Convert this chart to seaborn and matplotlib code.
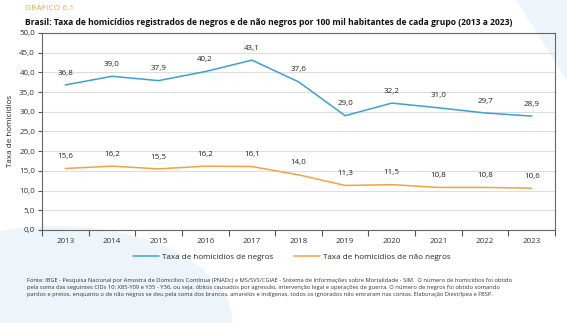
import matplotlib
matplotlib.use("Agg")
import matplotlib.pyplot as plt
import seaborn as sns
import pandas as pd
from matplotlib.patches import Polygon, Ellipse
from matplotlib.lines import Line2D

years = [2013, 2014, 2015, 2016, 2017, 2018, 2019, 2020, 2021, 2022, 2023]
negros = [36.8, 39.0, 37.9, 40.2, 43.1, 37.6, 29.0, 32.2, 31.0, 29.7, 28.9]
nao_negros = [15.6, 16.2, 15.5, 16.2, 16.1, 14.0, 11.3, 11.5, 10.8, 10.8, 10.6]
series_names = ["Taxa de homicídios de negros", "Taxa de homicídios de não negros"]
yticks = [0, 5, 10, 15, 20, 25, 30, 35, 40, 45, 50]

sns.set_theme(style="white")
plt.rcParams['font.family'] = ['Open Sans', 'DejaVu Sans']

df = pd.DataFrame({
    "pos": list(range(len(years))) * 2,
    "valor": negros + nao_negros,
    "serie": [series_names[0]] * len(years) + [series_names[1]] * len(years),
})

fig = plt.figure(figsize=(5.67, 3.23), dpi=100)
fig.patch.set_facecolor("white")

# faint background shapes
bg = fig.add_axes([0, 0, 1, 1], zorder=-10)
bg.set_xlim(0, 1); bg.set_ylim(0, 1); bg.axis("off")
bg.add_patch(Ellipse((0.1, 0.0), 0.62, 0.6, color="#eef5fa", lw=0))
bg.add_patch(Polygon([[0.91, 1.0], [1.0, 1.0], [1.0, 0.75]], color="#eef5fa", lw=0))

ax = fig.add_axes([0.074, 0.288, 0.905, 0.61])
ax.set_facecolor("none")
colors = ["#3b9fd9", "#f7a142"]
sns.lineplot(data=df, x="pos", y="valor", hue="serie", palette=colors, ax=ax,
             linewidth=1.1, legend=False)

for series in (negros, nao_negros):
    for i, v in enumerate(series):
        ax.annotate(f"{v:.1f}".replace(".", ","), (i, v), xytext=(0, 6), textcoords="offset points",
                    ha="center", va="bottom", fontsize=5.8, color="#222222")

ax.set_xlim(-0.5, len(years) - 0.5)
ax.set_ylim(0, 50)
ax.set_yticks(yticks)
ax.set_yticklabels([f"{t:.1f}".replace(".", ",") for t in yticks], fontsize=5.8, color="#333333")
ax.set_xticks(range(len(years)))
ax.set_xticklabels([str(y) for y in years], fontsize=5.8, color="#333333")
ax.tick_params(axis="x", length=0, pad=6)
ax.tick_params(axis="y", length=3, width=0.8, color="#555555", pad=2, left=True)
ax.set_xticks([i - 0.5 for i in range(len(years) + 1)], minor=True)
ax.tick_params(axis="x", which="minor", length=4, width=0.8, color="#555555", bottom=True)
ax.yaxis.grid(True, color="#dddddd", linewidth=0.8)
ax.set_axisbelow(True)
for s in ["left", "right", "top", "bottom"]:
    ax.spines[s].set_color("#666666")
    ax.spines[s].set_linewidth(0.8)
ax.set_xlabel("")
ax.set_ylabel("Taxa de homicídios", fontsize=5.8, color="#222222", labelpad=4)

handles = [Line2D([], [], color=c, lw=1.1) for c in colors]
fig.legend(handles, series_names, loc="center", bbox_to_anchor=(0.515, 0.205), ncol=2,
           frameon=False, fontsize=5.8, handlelength=3.2, columnspacing=2.5, handletextpad=0.4)

fig.text(0.044, 0.985, "GRÁFICO 6.1", fontsize=6, color="#f7a142", va="top", ha="left")
fig.text(0.044, 0.945, "Brasil: Taxa de homicídios registrados de negros e de não negros por 100 mil habitantes de cada grupo (2013 a 2023)",
         fontsize=6.1, fontweight="bold", color="#111111", va="top", ha="left")

foot = ("Fonte: IBGE - Pesquisa Nacional por Amostra de Domicílios Contínua (PNADc) e MS/SVS/CGIAE - Sistema de Informações sobre Mortalidade - SIM.  O número de homicídios foi obtido\n"
        "pela soma das seguintes CIDs 10: X85-Y09 e Y35 - Y36, ou seja, óbitos causados por agressão, intervenção legal e operações de guerra. O número de negros foi obtido somando\n"
        "pardos e pretos, enquanto o de não negros se deu pela soma dos brancos, amarelos e indígenas, todos os ignorados não entraram nas contas. Elaboração Diest/Ipea e FBSP.")
fig.text(0.048, 0.14, foot, fontsize=4.15, color="#333333", va="top", ha="left", linespacing=1.55)

fig.savefig("out.png", dpi=100, facecolor="white")
